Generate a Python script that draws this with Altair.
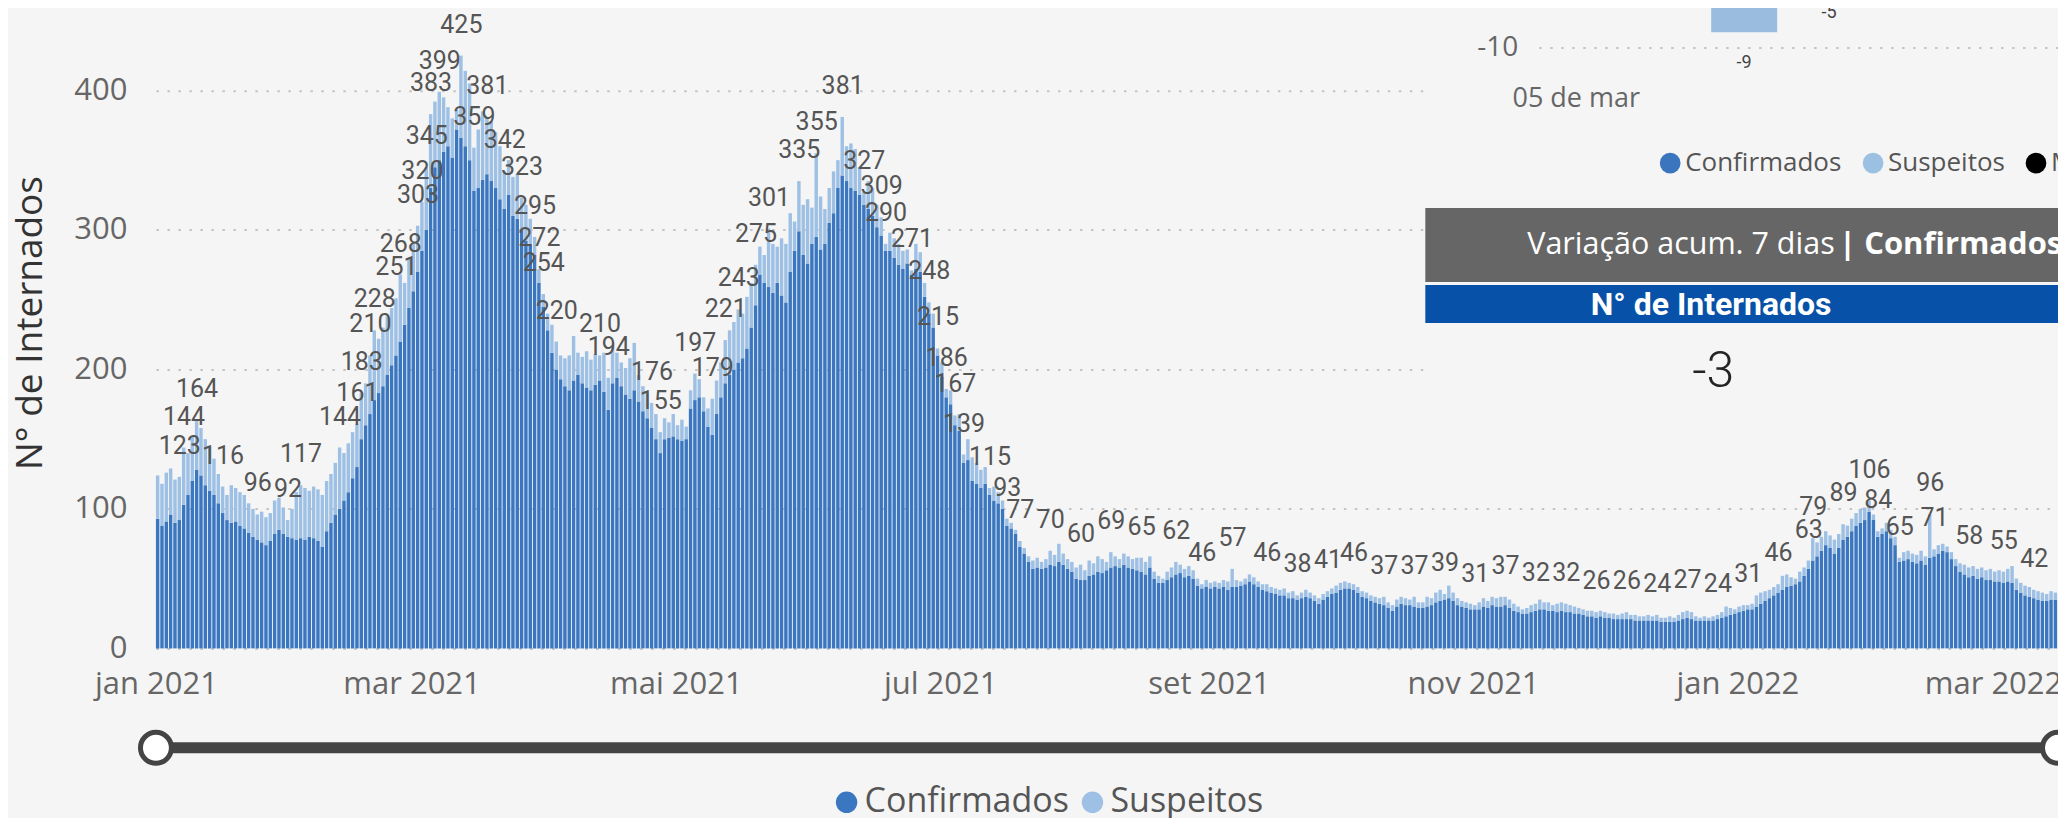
import json
import altair as alt
import numpy as np
import pandas as pd

# ---------------- data ----------------
INICIO = "2021-01-01"

# total internados per day (top of the light bar)
TOTAIS = [
    124, 118, 126, 129, 121, 123, 144, 140, 152, 164,
    158, 150, 145, 136, 125, 116, 110, 117, 115, 112,
    110, 104, 100, 96, 98, 94, 97, 106, 108, 101,
    92, 100, 112, 117, 115, 113, 116, 114, 110, 120,
    125, 133, 144, 140, 147, 155, 161, 183, 190, 210,
    228, 222, 230, 238, 244, 251, 268, 262, 280, 290,
    303, 320, 345, 383, 392, 399, 395, 388, 380, 386,
    425, 414, 405, 359, 372, 385, 381, 378, 370, 360,
    342, 350, 338, 340, 323, 318, 308, 295, 272, 254,
    240, 232, 220, 210, 208, 210, 224, 212, 209, 213,
    207, 211, 210, 212, 194, 216, 212, 205, 201, 208,
    219, 196, 188, 183, 176, 168, 155, 165, 162, 168,
    160, 164, 159, 185, 197, 193, 180, 172, 179, 192,
    205, 221, 228, 234, 243, 240, 252, 262, 275, 288,
    282, 301, 290, 288, 294, 290, 312, 306, 335, 318,
    322, 316, 355, 324, 315, 330, 342, 350, 381, 360,
    362, 358, 345, 327, 335, 330, 318, 309, 290, 298,
    294, 290, 285, 286, 271, 290, 284, 262, 248, 240,
    215, 205, 186, 185, 167, 168, 139, 150, 137, 133,
    128, 130, 115, 116, 112, 106, 93, 90, 85, 77,
    72, 66, 63, 65, 62, 64, 70, 67, 75, 68,
    64, 62, 58, 60, 56, 63, 61, 66, 64, 62,
    69, 66, 64, 68, 66, 64, 65, 65, 62, 66,
    55, 52, 50, 55, 58, 62, 60, 57, 59, 56,
    50, 46, 49, 47, 48, 47, 49, 48, 57, 49,
    48, 50, 53, 51, 48, 46, 46, 44, 43, 42,
    43, 40, 41, 38, 40, 42, 40, 38, 36, 39,
    41, 43, 45, 47, 48, 47, 46, 44, 41, 40,
    38, 37, 36, 37, 33, 31, 35, 37, 36, 35,
    37, 33, 33, 37, 36, 40, 42, 39, 45, 40,
    36, 34, 33, 32, 31, 33, 36, 34, 37, 36,
    37, 37, 35, 32, 30, 28, 29, 31, 32, 35,
    33, 33, 31, 32, 33, 32, 31, 30, 29, 28,
    27, 27, 26, 27, 26, 25, 25, 24, 25, 26,
    24, 24, 23, 23, 24, 23, 24, 22, 22, 23,
    22, 24, 26, 27, 26, 23, 22, 23, 22, 23,
    24, 26, 30, 29, 28, 30, 31, 31, 32, 38,
    40, 41, 42, 44, 46, 52, 53, 51, 50, 55,
    58, 63, 79, 76, 80, 84, 81, 78, 82, 89,
    88, 93, 97, 100, 101, 106, 96, 84, 86, 90,
    85, 80, 65, 69, 70, 68, 67, 70, 66, 96,
    71, 74, 75, 73, 69, 64, 61, 60, 58, 59,
    57, 58, 56, 57, 55, 56, 55, 57, 59, 50,
    47, 45, 44, 42, 41, 40, 39, 41, 40,
]

# confirmed per day (top of the dark bar)
CONFIRMADOS = [
    93, 88, 91, 96, 90, 92, 103, 110, 120, 128,
    124, 117, 113, 110, 104, 97, 92, 90, 91, 88,
    86, 83, 80, 78, 76, 74, 77, 82, 85, 82,
    80, 79, 78, 79, 78, 80, 79, 77, 73, 84,
    90, 96, 100, 106, 112, 122, 130, 150, 160, 168,
    178, 183, 188, 196, 203, 210, 220, 232, 244, 256,
    270, 285, 300, 330, 345, 350, 356, 360, 352, 372,
    366, 360, 350, 328, 330, 336, 340, 335, 330, 322,
    315, 325, 310, 308, 300, 292, 290, 282, 262, 245,
    228, 212, 200, 193, 188, 185, 192, 196, 190, 187,
    185, 189, 192, 184, 171, 190, 194, 188, 182, 179,
    185, 177, 170, 165, 158, 150, 140, 150, 151, 152,
    150, 149, 150, 172, 178, 180, 170, 159, 153, 168,
    180, 190, 196, 200, 205, 208, 215, 230, 246, 268,
    262, 259, 255, 262, 253, 248, 270, 285, 299, 282,
    276, 290, 295, 286, 290, 305, 312, 330, 339, 335,
    330, 328, 325, 318, 315, 310, 302, 296, 285, 285,
    280, 275, 272, 276, 268, 272, 270, 252, 240, 230,
    210, 195, 180, 175, 160, 156, 133, 135, 120, 118,
    115, 118, 110, 106, 104, 100, 88, 86, 82, 73,
    68, 62, 57, 58, 57, 58, 60, 59, 62, 60,
    57, 55, 50, 49, 49, 52, 53, 55, 54, 56,
    58, 59, 58, 60, 58, 57, 56, 55, 53, 58,
    50, 47, 47, 49, 51, 53, 54, 51, 52, 50,
    45, 43, 44, 43, 44, 43, 44, 42, 44, 44,
    45, 46, 48, 46, 44, 42, 41, 40, 39, 38,
    38, 36, 36, 35, 36, 37, 36, 34, 32, 35,
    37, 39, 40, 42, 43, 43, 42, 40, 37, 36,
    34, 33, 32, 31, 29, 27, 30, 32, 31, 31,
    30, 29, 29, 30, 31, 33, 34, 35, 36, 34,
    31, 30, 29, 28, 28, 28, 30, 29, 31, 30,
    30, 31, 29, 27, 26, 25, 25, 26, 27, 28,
    28, 27, 27, 26, 27, 26, 26, 25, 25, 24,
    23, 23, 22, 23, 22, 22, 21, 21, 21, 21,
    21, 20, 20, 20, 20, 20, 20, 19, 19, 19,
    19, 20, 21, 22, 21, 20, 20, 20, 20, 20,
    21, 22, 23, 24, 25, 26, 27, 28, 28, 30,
    32, 34, 36, 38, 40, 42, 44, 45, 46, 48,
    52, 57, 63, 66, 70, 74, 72, 68, 72, 78,
    80, 84, 88, 90, 92, 98, 92, 80, 82, 84,
    79, 74, 62, 63, 64, 62, 61, 63, 60, 65,
    66, 68, 70, 69, 64, 59, 55, 53, 51, 52,
    50, 51, 49, 49, 48, 48, 47, 48, 47, 42,
    40, 38, 37, 36, 35, 34, 34, 35, 35,
]

# days (index from INICIO) that carry a data label in the picture
ROTULO_DIAS = [
    5, 6, 9, 15, 23, 30, 33, 42, 46, 47, 49, 50, 55, 56, 60, 61, 62, 63, 65,
    70, 73, 76, 80, 84, 87, 88, 89, 92, 102, 104, 114, 116, 124, 128, 131,
    134, 138, 141, 148, 152, 158, 163, 167, 168, 174, 178, 180, 182, 184,
    186, 192, 196, 199, 206, 213, 220, 227, 235, 241, 248, 256, 263, 270,
    276, 283, 290, 297, 304, 311, 318, 325, 332, 339, 346, 353, 360, 367,
    374, 381, 382, 389, 395, 397, 402, 409, 410, 418, 426, 433,
]

SERIES = ["Confirmados", "Suspeitos"]
CORES = ["#3a77c0", "#9dc0e4"]
MESES = ["jan", "fev", "mar", "abr", "mai", "jun",
         "jul", "ago", "set", "out", "nov", "dez"]
Y_TICKS = [0, 100, 200, 300, 400]
Y_MAX = 450
TITULO_Y = "N° de Internados"

# right-hand panel (partly visible other visual)
MINI_VALORES = [-9, -5]
MINI_EIXO = -10
MINI_DATA = "05 de mar"
PAINEL_TITULO = "Variação acum. 7 dias"
PAINEL_TITULO_B = "| Confirmados"
PAINEL_SUB = "N° de Internados"
PAINEL_VALOR = "-3"
PAINEL_LEGENDA = ["Confirmados", "Suspeitos", "Média móvel"]
PAINEL_LEG_CORES = ["#3a75bd", "#9cc0e2", "#000000"]

# ---------------- tables ----------------
n = len(TOTAIS)
datas = pd.date_range(INICIO, periods=n, freq="D")
um_dia = pd.Timedelta(days=1)
conf = np.array(CONFIRMADOS)
tot = np.array(TOTAIS)

df_barras = pd.DataFrame({
    "ini": list(datas) * 2,
    "fim": list(datas + um_dia) * 2,
    "serie": [SERIES[0]] * n + [SERIES[1]] * n,
    "base": list(np.zeros(n, dtype=int)) + list(conf),
    "topo": list(conf) + list(tot),
})

df_rot = pd.DataFrame({
    "meio": [datas[i] + pd.Timedelta(hours=12) for i in ROTULO_DIAS],
    "total": [int(tot[i]) for i in ROTULO_DIAS],
})

df_slider = pd.DataFrame({"ini": [datas[0]], "fim": [datas[-1] + um_dia]})
df_pontas = pd.DataFrame({"data": [datas[0], datas[-1] + um_dia]})

BG = "#f5f5f5"
FONT = "Segoe UI, Open Sans, sans-serif"
LFONT = "Roboto, DejaVu Sans, sans-serif"

W, H = 1903, 628
PAD = {"left": 148, "top": 12.5, "right": 0, "bottom": 169.5}

x_scale = alt.Scale(nice=False, padding=0)
y_scale = alt.Scale(domain=[0, Y_MAX], nice=False)

label_expr = json.dumps(MESES) + "[month(datum.value)] + ' ' + year(datum.value)"

barras = alt.Chart(df_barras).mark_bar(x2Offset=-0.9, cornerRadius=0).encode(
    x=alt.X("ini:T", scale=x_scale, title=None,
            axis=alt.Axis(tickCount={"interval": "month", "step": 2},
                          labelExpr=label_expr, labelFont=FONT, labelFontSize=31,
                          labelColor="#666666", labelPadding=36, labelBaseline="middle",
                          labelFlush=False, labelOverlap=False, labelBound=False,
                          domain=False, ticks=False, tickSize=0, grid=False)),
    x2="fim:T",
    y=alt.Y("base:Q", scale=y_scale, title=TITULO_Y,
            axis=alt.Axis(values=Y_TICKS, labelFont=FONT, labelFontSize=31,
                          labelColor="#666666", labelPadding=29, domain=False,
                          ticks=False, tickSize=0, grid=True, gridDash=[2.5, 8.5],
                          gridColor="#c4c4c4", gridWidth=2,
                          titleFont=FONT, titleFontSize=37, titleFontWeight="normal",
                          titleColor="#333333", titleX=-125, titleY=302,
                          titleBaseline="middle", titleAlign="center")),
    y2="topo:Q",
    color=alt.Color("serie:N", scale=alt.Scale(domain=SERIES, range=CORES),
                    legend=alt.Legend(orient="none", legendX=674, legendY=765,
                                      direction="horizontal", title=None,
                                      symbolType="circle", symbolSize=460,
                                      symbolStrokeWidth=0, labelFont=FONT,
                                      labelFontSize=34, labelColor="#555555",
                                      labelLimit=0, labelOffset=1,
                                      columnPadding=6)),
)

rotulos = alt.Chart(df_rot).mark_text(
    font=LFONT, fontSize=25, color="#555555", baseline="middle", dy=-31
).encode(x="meio:T", y=alt.Y("total:Q", scale=y_scale), text="total:Q")

trilho = alt.Chart(df_slider).mark_rule(color="#444444", strokeWidth=11).encode(
    x="ini:T", x2="fim:T", y=alt.value(727.5))
pontas = alt.Chart(df_pontas).mark_point(
    shape="circle", fill="white", fillOpacity=1, stroke="#444444",
    strokeWidth=5, size=960, opacity=1
).encode(x="data:T", y=alt.value(727.5))

um = pd.DataFrame({"a": [0]})
capa = alt.Chart(um).mark_rect(color=BG).encode(
    x=alt.value(1270), x2=alt.value(1915), y=alt.value(-21), y2=alt.value(380))
faixa_cinza = alt.Chart(um).mark_rect(color="#666666").encode(
    x=alt.value(1270), x2=alt.value(1915), y=alt.value(187.5), y2=alt.value(261.5))
faixa_azul = alt.Chart(um).mark_rect(color="#0752a8").encode(
    x=alt.value(1270), x2=alt.value(1915), y=alt.value(264.5), y2=alt.value(302.5))
t_titulo = alt.Chart(um).mark_text(font=FONT, fontSize=30.5, color="white",
                                   align="left", baseline="middle",
                                   text=PAINEL_TITULO).encode(
    x=alt.value(1372), y=alt.value(224.5))
t_titulo_b = alt.Chart(um).mark_text(font=FONT, fontSize=31, color="white",
                                     fontWeight="bold", align="left",
                                     baseline="middle", text=PAINEL_TITULO_B).encode(
    x=alt.value(1684), y=alt.value(224.5))
t_sub = alt.Chart(um).mark_text(font=LFONT, fontSize=32, color="white",
                                fontWeight="bold", align="center",
                                baseline="middle", text=PAINEL_SUB).encode(
    x=alt.value(1556), y=alt.value(284))
t_valor = alt.Chart(um).mark_text(font=LFONT, fontSize=50, color="#252423",
                                  fontWeight=300, align="center",
                                  baseline="middle", text=PAINEL_VALOR).encode(
    x=alt.value(1558), y=alt.value(351.5))

leg_x_pts = [1515, 1718, 1881]
leg_x_txt = [1530, 1733, 1896]
painel_leg = []
for nome, cor, xp, xt in zip(PAINEL_LEGENDA, PAINEL_LEG_CORES, leg_x_pts, leg_x_txt):
    painel_leg.append(alt.Chart(um).mark_circle(color=cor, size=430, opacity=1).encode(
        x=alt.value(xp), y=alt.value(142.5)))
    painel_leg.append(alt.Chart(um).mark_text(font=FONT, fontSize=26, color="#555555",
                                              align="left", baseline="middle",
                                              text=nome).encode(
        x=alt.value(xt), y=alt.value(142.5)))

t_mini_data = alt.Chart(um).mark_text(font=FONT, fontSize=27, color="#666666",
                                      align="center", baseline="middle",
                                      text=MINI_DATA).encode(
    x=alt.value(1421), y=alt.value(78.5))

principal = alt.layer(barras, rotulos, trilho, pontas, capa, faixa_cinza,
                      faixa_azul, t_titulo, t_titulo_b, t_sub, t_valor,
                      t_mini_data, *painel_leg)

# fragment of the small bar chart (own y scale)
mini_scale = alt.Scale(domain=[MINI_EIXO, 0], range=[27.2, -129.6], nice=False)
df_mini = pd.DataFrame({"valor": [MINI_VALORES[0]], "zero": [0]})
df_mini_rot = pd.DataFrame({"valor": MINI_VALORES, "rot": [str(v) for v in MINI_VALORES]})
df_mini_eixo = pd.DataFrame({"valor": [MINI_EIXO], "rot": [str(MINI_EIXO)]})

mini_barra = alt.Chart(df_mini).mark_rect(color="#9abcdf").encode(
    x=alt.value(1556), x2=alt.value(1622),
    y=alt.Y("valor:Q", scale=mini_scale, axis=None), y2="zero:Q")
mini_rot1 = alt.Chart(df_mini_rot.iloc[[0]]).mark_text(
    font=LFONT, fontSize=18, color="#444444", baseline="middle", dy=31).encode(
    x=alt.value(1589), y=alt.Y("valor:Q", scale=mini_scale, axis=None), text="rot:N")
mini_rot2 = alt.Chart(df_mini_rot.iloc[[1]]).mark_text(
    font=LFONT, fontSize=18, color="#444444", baseline="middle", dy=44).encode(
    x=alt.value(1674), y=alt.Y("valor:Q", scale=mini_scale, axis=None), text="rot:N")
mini_grade = alt.Chart(df_mini_eixo).mark_rule(
    color="#c4c4c4", strokeWidth=2, strokeDash=[2.5, 8.5]).encode(
    x=alt.value(1384), x2=alt.value(1915),
    y=alt.Y("valor:Q", scale=mini_scale, axis=None))
mini_eixo = alt.Chart(df_mini_eixo).mark_text(
    font=FONT, fontSize=28, color="#666666", align="right", baseline="middle").encode(
    x=alt.value(1363), y=alt.Y("valor:Q", scale=mini_scale, axis=None), text="rot:N")

mini = alt.layer(mini_barra, mini_grade, mini_eixo, mini_rot1, mini_rot2)

chart = alt.layer(principal, mini).resolve_scale(y="independent").properties(
    width=W, height=H, padding=PAD,
    autosize=alt.AutoSizeParams(type="none"),
    background=BG,
).configure_view(stroke=None)

chart.save("out.html", embed_options={"renderer": "svg", "actions": False})
